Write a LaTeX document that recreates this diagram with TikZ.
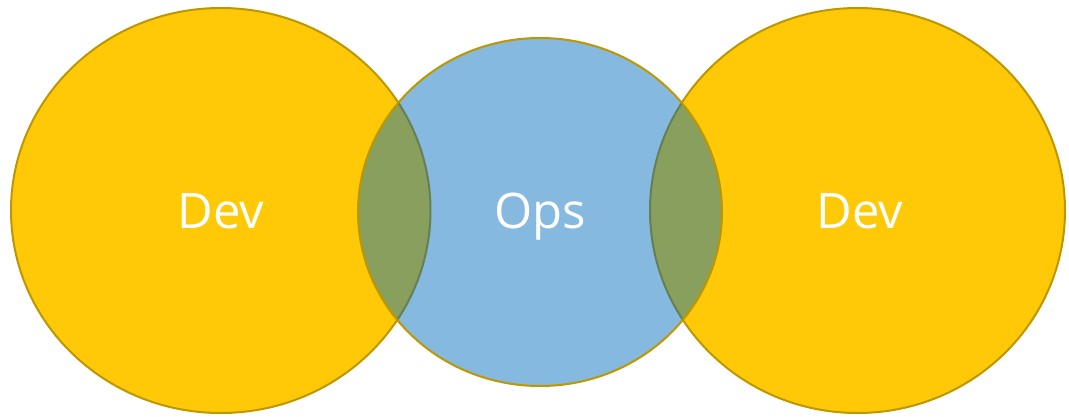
\documentclass[tikz,border=0pt]{standalone}
\usepackage{fontspec}
\setmainfont{Open Sans}
\usepackage{tikz}

\definecolor{devyellow}{HTML}{FFC907}
\definecolor{opsblue}{HTML}{85B9E0}
\definecolor{rimgold}{HTML}{BD9700}
\definecolor{lensgreen}{HTML}{889F5D}
\definecolor{lensrim}{HTML}{667F55}

\tikzset{
	rim/.style = {line width = 2pt, draw = rimgold},
	label/.style = {text = white, anchor = base, font = \fontsize{49}{55}\selectfont}
}

\begin{document}
\begin{tikzpicture}[x = 1pt, y = -1pt]
							\useasboundingbox (0, 0) rectangle (1069, 416);

							\coordinate[](l) at (220.75, 210.5);
							\coordinate[](o) at (540, 212);
							\coordinate[](r) at (857.5, 210.5);

							% the two Dev circles
							\draw[rim, fill = devyellow] (l) ellipse [x radius = 209.75, y radius = 202.5];
							\draw[rim, fill = devyellow] (r) ellipse [x radius = 207.5, y radius = 202.5];
							\fill[opsblue] (o) ellipse [x radius = 182, y radius = 174];

							% overlaps
							\begin{scope}
								\clip (o) ellipse [x radius = 182, y radius = 174];
								\fill[lensgreen] (l) ellipse [x radius = 209.75, y radius = 202.5];
								\fill[lensgreen] (r) ellipse [x radius = 207.5, y radius = 202.5];
								\draw[line width = 2pt, lensrim] (l) ellipse [x radius = 209.75, y radius = 202.5];
								\draw[line width = 2pt, lensrim] (r) ellipse [x radius = 207.5, y radius = 202.5];
							\end{scope}
							\draw[rim] (o) ellipse [x radius = 182, y radius = 174];

							\node[label] (devl) at (220.75, 228) {Dev};
							\node[label] (ops) at (540, 228) {Ops};
							\node[label] (devr) at (860, 228) {Dev};
						\end{tikzpicture}
\end{document}
